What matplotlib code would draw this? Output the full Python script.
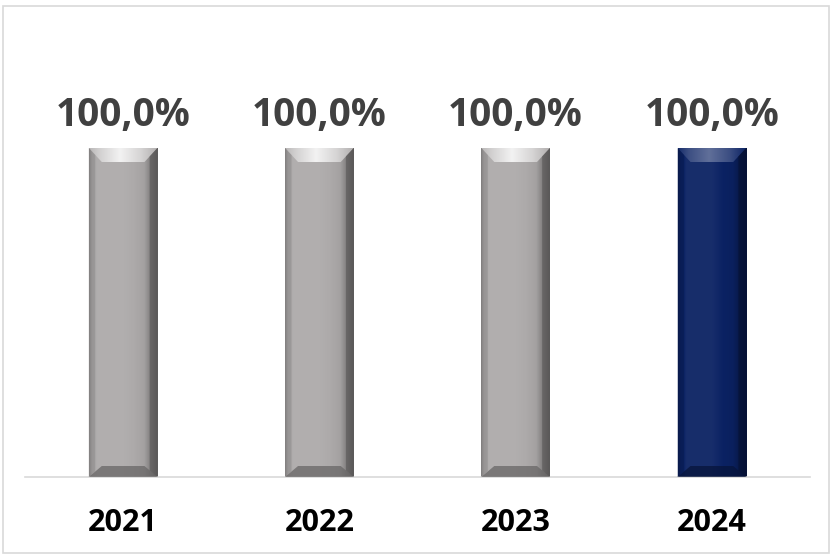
import matplotlib
matplotlib.use("Agg")
import matplotlib.pyplot as plt
import numpy as np
from matplotlib.patches import Polygon, Rectangle
from matplotlib.colors import to_rgb

years = ["2021", "2022", "2023", "2024"]
values = [100.0, 100.0, 100.0, 100.0]
labels = ["100,0%", "100,0%", "100,0%", "100,0%"]
highlight = [False, False, False, True]

W, H = 832, 556
fig = plt.figure(figsize=(W / 100, H / 100), dpi=100)
fig.patch.set_facecolor("white")
fig.add_artist(Rectangle((3 / W, 3 / H), (W - 6) / W, (H - 9) / H, transform=fig.transFigure,
                         fill=False, edgecolor="#d9d9d9", linewidth=1.2))

base_px = 477
top_px = 20
ax = fig.add_axes([25 / W, (H - base_px) / H, 785 / W, (base_px - top_px) / H])
ymax = 100 * (base_px - top_px) / (base_px - 148)
ax.set_ylim(0, ymax)
ax.set_xlim(-0.5, len(years) - 0.5)
for s in ["top", "right", "left"]:
    ax.spines[s].set_visible(False)
ax.spines["bottom"].set_color("#d9d9d9")
ax.spines["bottom"].set_linewidth(1.2)
ax.set_yticks([])
ax.set_xticks(range(len(years)))
ax.set_xticklabels(years, fontfamily="Open Sans", fontweight="bold", fontsize=22, color="black")
ax.tick_params(axis="x", length=0, pad=22)

bw = 0.35
px_per_x = 785 / len(years)
px_per_y = (base_px - 148) / 100
dx = 13 / px_per_x
dyt = 14 / px_per_y
dyb = 11 / px_per_y


def shade(c, f):
    c = np.array(to_rgb(c))
    if f >= 0:
        return tuple(c + (1 - c) * f)
    return tuple(c * (1 + f))


bars = ax.bar(range(len(years)), values, width=bw, color="none", edgecolor="none", zorder=2)
for i, (b, v) in enumerate(zip(bars, values)):
    hl = highlight[i]
    base = "#0b2263" if hl else "#adaaaa"
    x0 = b.get_x()
    x1 = x0 + b.get_width()
    h = b.get_height()
    # horizontal gradient
    t = np.linspace(0, 1, 200)
    prof = np.interp(t, [0, 0.04, 0.12, 0.5, 0.8, 0.92, 1.0], [-0.3, -0.05, 0.05, 0.05, -0.05, -0.3, -0.45])
    cols = np.array([shade(base, f) for f in prof])[None, :, :]
    im = ax.imshow(cols, extent=[x0, x1, 0, h], aspect="auto", zorder=2, interpolation="bilinear")
    im.set_clip_path(b)
    # top bevel with gradient highlight
    tt = np.linspace(0, 1, 100)
    tprof = np.interp(tt, [0, 0.15, 0.45, 0.75, 1.0], [0.15, 0.45, 0.85, 0.5, 0.05]) if not hl else \
        np.interp(tt, [0, 0.15, 0.45, 0.75, 1.0], [0.05, 0.2, 0.35, 0.2, 0.0])
    tcols = np.array([shade(base, f) for f in tprof])[None, :, :]
    tp = Polygon([(x0, h), (x1, h), (x1 - dx, h - dyt), (x0 + dx, h - dyt)],
                 closed=True, facecolor="none", edgecolor="none", zorder=3)
    ax.add_patch(tp)
    tim = ax.imshow(tcols, extent=[x0, x1, h - dyt, h], aspect="auto", zorder=3, interpolation="bilinear")
    tim.set_clip_path(tp)
    ax.add_patch(Polygon([(x0, 0), (x1, 0), (x1 - dx, dyb), (x0 + dx, dyb)],
                         closed=True, facecolor=shade(base, -0.4), edgecolor="none", zorder=3, alpha=0.75))
    ax.add_patch(Polygon([(x0, 0), (x0 + dx * 0.5, dyb * 0.5), (x0 + dx * 0.5, h - dyt * 0.5), (x0, h)],
                         closed=True, facecolor=shade(base, -0.2), edgecolor="none", zorder=3, alpha=0.5))
    ax.add_patch(Polygon([(x1, 0), (x1 - dx * 0.6, dyb * 0.6), (x1 - dx * 0.6, h - dyt * 0.6), (x1, h)],
                         closed=True, facecolor=shade(base, -0.5), edgecolor="none", zorder=3, alpha=0.6))
    ax.annotate(labels[i], (b.get_x() + b.get_width() / 2, h), xytext=(0, 9),
                textcoords="offset points", ha="center", va="bottom",
                fontfamily="Open Sans", fontweight="bold", fontsize=28, color="#404040")

fig.savefig("out.png", dpi=100, facecolor="white")
